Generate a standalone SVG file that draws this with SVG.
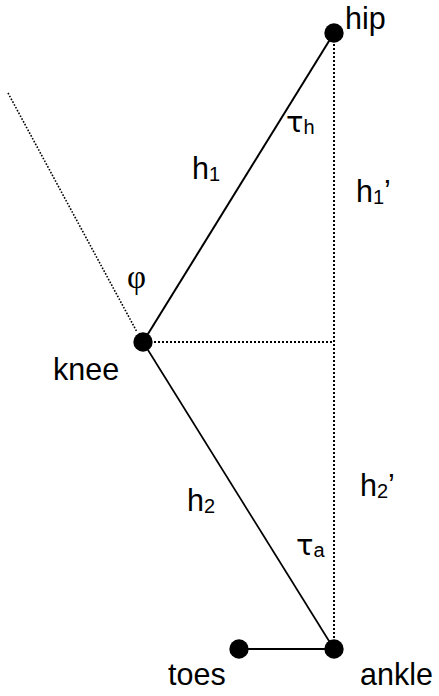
<svg xmlns="http://www.w3.org/2000/svg" width="439" height="696" viewBox="0 0 439 696">
<style>
text{font-family:"Liberation Sans",Arial,sans-serif;font-size:30.5px;fill:#000}
.sub{font-size:20px}
.tau{font-family:"DejaVu Sans",sans-serif;font-size:29px}
.phi{font-family:"Liberation Serif","Times New Roman",serif;font-size:33px}
.solid{stroke:#000;stroke-width:2;fill:none}
.dot{stroke:#000;stroke-width:1.6;stroke-dasharray:1.6 1.6;fill:none}
.joint{fill:#000}
</style>
<rect width="439" height="696" fill="#fff"/>
<g id="connectors">
<line class="dot" x1="8" y1="93" x2="137" y2="332"/>
<line class="dot" x1="334" y1="40" x2="334" y2="645" style="stroke-width:2;stroke-dasharray:2 2"/>
<line class="dot" x1="150" y1="342" x2="334" y2="342" style="stroke-width:2;stroke-dasharray:2 2"/>
<line class="solid" x1="334" y1="33" x2="143" y2="342"/>
<line class="solid" x1="143" y1="342" x2="334" y2="649" style="stroke-width:1.7"/>
<line class="solid" x1="239" y1="649" x2="334" y2="649"/>
</g>
<g id="hip"><circle class="joint" cx="334" cy="33" r="9.7"/><text x="345" y="29">hip</text></g>
<g id="knee"><circle class="joint" cx="143" cy="342" r="9.7"/><text x="53" y="380">knee</text></g>
<g id="ankle"><circle class="joint" cx="334" cy="649" r="9.7"/><text x="360" y="685">ankle</text></g>
<g id="toes"><circle class="joint" cx="239" cy="649" r="9.7"/><text x="168" y="685">toes</text></g>
<g id="labels">
<text x="192" y="179">h<tspan class="sub" dy="2">1</tspan></text>
<text x="187" y="511">h<tspan class="sub" dy="2">2</tspan></text>
<text x="356" y="202">h<tspan class="sub" dy="2">1</tspan><tspan dy="-2">’</tspan></text>
<text x="360" y="496">h<tspan class="sub" dy="2">2</tspan><tspan dy="-2">’</tspan></text>
<text x="286" y="132"><tspan class="tau">τ</tspan><tspan class="sub" dy="2">h</tspan></text>
<text x="296" y="555"><tspan class="tau">τ</tspan><tspan class="sub" dy="2">a</tspan></text>
<text class="phi" x="127" y="288">φ</text>
</g>
</svg>
